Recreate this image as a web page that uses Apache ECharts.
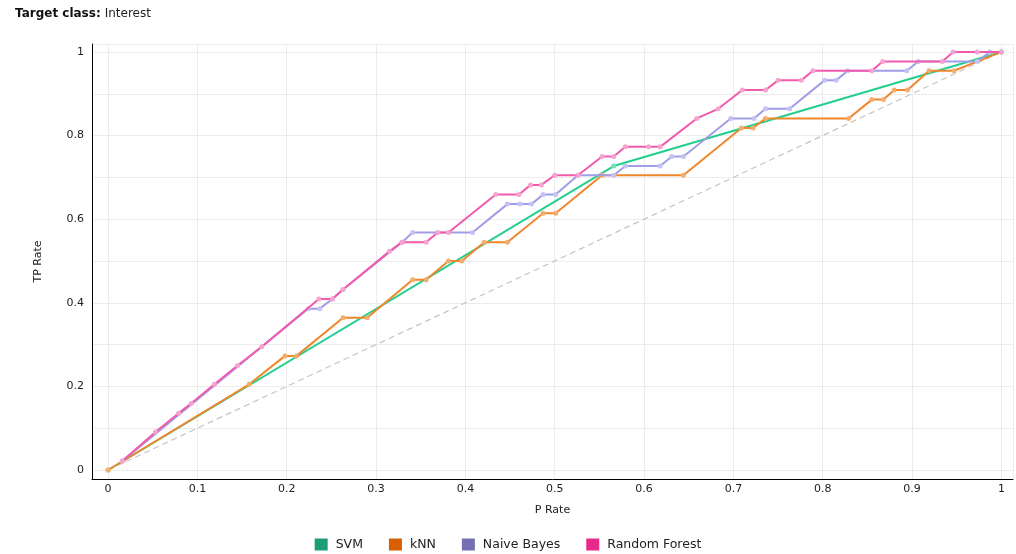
<!DOCTYPE html>
<html>
<head>
<meta charset="utf-8">
<script src="https://cdn.jsdelivr.net/npm/echarts@6/dist/echarts.min.js"></script>
<style>html,body{margin:0;padding:0;background:#fff;}#c{width:1016px;height:554px;}</style>
</head>
<body>
<div id="c"></div>
<script>
var seriesNames = ['SVM', 'kNN', 'Naive Bayes', 'Random Forest'];

var svmFpr = [0, 0.566, 1];
var svmTpr = [0, 0.727, 1];

var knnFpr = [0, 0.158, 0.198, 0.211, 0.263, 0.290, 0.341, 0.356, 0.381, 0.396, 0.421, 0.447, 0.487, 0.501, 0.553, 0.644, 0.709, 0.722, 0.736, 0.829, 0.855, 0.868, 0.880, 0.895, 0.919, 0.947, 1];
var knnTpr = [0, 0.205, 0.273, 0.273, 0.364, 0.364, 0.455, 0.455, 0.5, 0.5, 0.545, 0.545, 0.614, 0.614, 0.705, 0.705, 0.818, 0.818, 0.841, 0.841, 0.886, 0.886, 0.909, 0.909, 0.955, 0.955, 1];

var nbFpr = [0.016, 0.224, 0.237, 0.251, 0.263, 0.329, 0.341, 0.408, 0.447, 0.461, 0.474, 0.487, 0.501, 0.526, 0.566, 0.579, 0.618, 0.631, 0.644, 0.697, 0.723, 0.736, 0.763, 0.802, 0.815, 0.828, 0.894, 0.907, 0.973, 0.987, 1];
var nbTpr = [0.0215, 0.386, 0.386, 0.409, 0.432, 0.545, 0.568, 0.568, 0.636, 0.636, 0.636, 0.659, 0.659, 0.705, 0.705, 0.727, 0.727, 0.75, 0.75, 0.841, 0.841, 0.864, 0.864, 0.932, 0.932, 0.955, 0.955, 0.977, 0.977, 1, 1];

var rfFpr = [0.016, 0.053, 0.079, 0.093, 0.119, 0.145, 0.172, 0.236, 0.251, 0.263, 0.315, 0.329, 0.356, 0.369, 0.381, 0.434, 0.460, 0.473, 0.485, 0.500, 0.526, 0.553, 0.566, 0.579, 0.605, 0.618, 0.659, 0.683, 0.710, 0.736, 0.750, 0.776, 0.789, 0.855, 0.867, 0.934, 0.946, 0.973, 1];
var rfTpr = [0.0215, 0.091, 0.136, 0.159, 0.205, 0.25, 0.295, 0.409, 0.409, 0.432, 0.523, 0.545, 0.545, 0.568, 0.568, 0.659, 0.659, 0.682, 0.682, 0.705, 0.705, 0.75, 0.75, 0.773, 0.773, 0.773, 0.841, 0.864, 0.909, 0.909, 0.932, 0.932, 0.955, 0.955, 0.977, 0.977, 1, 1, 1];

var diagFpr = [0, 1];
var diagTpr = [0, 1];

var legendColors = ['#1b9e77', '#d95f02', '#7570b3', '#e7298a'];
var lineColors = ['#22cf8d', '#f0872d', '#a19de6', '#f25aad'];
var markColors = ['#74e2b8', '#f5ad6e', '#c5c2f4', '#f7a3cf'];

function zip(a, b) { return a.map(function (v, i) { return [v, b[i]]; }); }
var allData = [zip(svmFpr, svmTpr), zip(knnFpr, knnTpr), zip(nbFpr, nbTpr), zip(rfFpr, rfTpr)];

var font = 'DejaVu Sans';
function near(v, step) {
  var k = Math.round(v / step);
  return Math.abs(v - k * step) < 1e-6 && v >= -1e-6 && v <= 1 + 1e-6;
}
function fmt(v) { return String(Math.round(v * 10) / 10); }

var series = [{
  type: 'line', name: 'diag', data: zip(diagFpr, diagTpr), showSymbol: false, silent: true,
  lineStyle: { color: '#c4c4c4', width: 1.2, type: [6, 4] }, z: 1
}];
seriesNames.forEach(function (n, i) {
  series.push({
    type: 'line', name: n, data: allData[i], symbol: 'circle', symbolSize: 5,
    showSymbol: true,
    lineStyle: { color: lineColors[i], width: 2 },
    itemStyle: { color: markColors[i] },
    z: 2 + i
  });
});

var chart = echarts.init(document.getElementById('c'), null, { renderer: 'canvas' });
chart.setOption({
  animation: false,
  backgroundColor: '#fff',
  title: {
    text: '{b|Target class:}{n|Interest}',
    left: 10, top: 3,
    textStyle: {
      fontWeight: 'normal',
      rich: {
        b: { fontFamily: font, fontWeight: 'bold', fontSize: 12, color: '#111', padding: [0, 4, 0, 0] },
        n: { fontFamily: font, fontWeight: 'normal', fontSize: 12, color: '#222' }
      }
    }
  },
  legend: {
    top: 533, left: 'center', itemWidth: 13, itemHeight: 12, itemGap: 26, icon: 'rect',
    textStyle: { fontFamily: font, fontSize: 12.5, color: '#222', padding: [0, 0, 0, 3] },
    data: seriesNames.map(function (n, i) { return { name: n, itemStyle: { color: legendColors[i] } }; })
  },
  grid: { left: 92, right: 3, top: 44, bottom: 75, containLabel: false },
  xAxis: {
    type: 'value', min: -0.018, max: 1.013, splitNumber: 10, minInterval: 0.1, maxInterval: 0.1,
    name: 'P Rate', nameLocation: 'middle', nameGap: 26,
    nameTextStyle: { fontFamily: font, fontSize: 11, color: '#222' },
    axisLine: { show: true, onZero: false, lineStyle: { color: '#000', width: 1 } },
    axisTick: { show: false },
    axisLabel: {
      fontFamily: font, fontSize: 11, color: '#222', margin: 5,
      formatter: function (v) { return near(v, 0.1) ? fmt(v) : ''; }
    },
    splitLine: { show: true, lineStyle: { color: '#ececec', width: 1 } }
  },
  yAxis: {
    type: 'value', min: -0.0215, max: 1.019, splitNumber: 10, minInterval: 0.1, maxInterval: 0.1,
    name: 'TP Rate', nameLocation: 'middle', nameGap: 48, nameRotate: 90,
    nameTextStyle: { fontFamily: font, fontSize: 11, color: '#222' },
    axisLine: { show: true, onZero: false, lineStyle: { color: '#000', width: 1 } },
    axisTick: { show: false },
    axisLabel: {
      fontFamily: font, fontSize: 11, color: '#222', margin: 8,
      formatter: function (v) { return near(v, 0.2) ? fmt(v) : ''; }
    },
    splitLine: { show: true, lineStyle: { color: '#ececec', width: 1 } }
  },
  series: series
});
</script>
</body>
</html>
